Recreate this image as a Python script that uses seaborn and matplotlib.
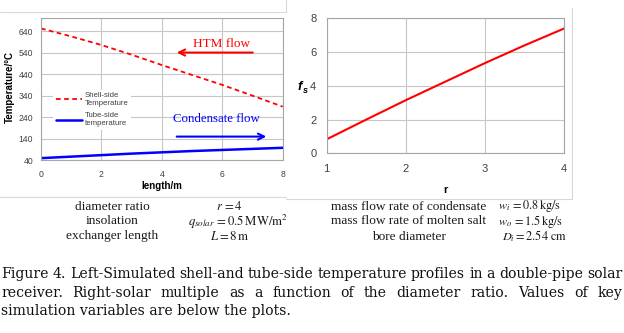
import matplotlib
matplotlib.use("Agg")
import matplotlib.pyplot as plt
import seaborn as sns
import pandas as pd
from matplotlib.lines import Line2D

# ---------------- data ----------------
length_m = [0, 1, 2, 3, 4, 5, 6, 7, 8]
shell_temp = [652, 615, 575, 530, 482, 436, 390, 340, 289]
tube_temp = [50, 57, 64, 71, 77, 83, 88, 93, 98]
temp_ticks = [40, 140, 240, 340, 440, 540, 640]
length_ticks = [0, 2, 4, 6, 8]

diam_ratio = [1, 1.5, 2, 2.5, 3, 3.5, 4]
solar_multiple = [0.83, 2.0, 3.15, 4.25, 5.35, 6.4, 7.4]
r_ticks = [1, 2, 3, 4]
fs_ticks = [0, 2, 4, 6, 8]

legend_labels = ["Shell-side\nTemperature", "Tube-side\ntemperature"]
flow_labels = ["HTM flow", "Condensate flow"]

param_left_names = ["diameter ratio", "insolation", "exchanger length"]
param_left_values = [r"$r\,=4$", r"$q_{solar}\,=0.5\,\mathrm{MW/m^2}$", r"$L=8\,\mathrm{m}$"]
param_right_names = ["mass flow rate of condensate", "mass flow rate of molten salt", "bore diameter"]
param_right_values = [r"$w_i\,=0.8\,\mathrm{kg/s}$", r"$w_o\,=1.5\,\mathrm{kg/s}$", r"$D_i=2.54\ \mathrm{cm}$"]

caption_lines = [
    "Figure 4. Left-Simulated shell-and tube-side temperature profiles in a double-pipe solar",
    "receiver. Right-solar multiple as a function of the diameter ratio. Values of key",
    "simulation variables are below the plots.",
]

# ---------------- style ----------------
sns.set_theme(style="white")
plt.rcParams["font.family"] = ["Liberation Sans", "DejaVu Sans"]
plt.rcParams["mathtext.fontset"] = "stix"

W, H = 624, 333
fig = plt.figure(figsize=(W / 100, H / 100), dpi=100)
fig.patch.set_facecolor("white")


def fx(x):
    return x / W


def fy(y):
    return 1 - y / H


GRID = "#C6C6C6"
SPINE = "#A6A6A6"
TXT = "#404040"

# ---------------- left chart ----------------
ax1 = fig.add_axes([fx(41), fy(160.3), 241.7 / W, 142.2 / H])
df1 = pd.DataFrame({"length": length_m, "shell": shell_temp, "tube": tube_temp})
sns.lineplot(data=df1, x="length", y="shell", ax=ax1, color="#FF0000", lw=1.3,
             linestyle=(0, (2.6, 1.9)), label=legend_labels[0])
sns.lineplot(data=df1, x="length", y="tube", ax=ax1, color="#0000FF", lw=1.8,
             label=legend_labels[1])
ax1.set_xlim(0, 8)
ax1.set_ylim(40, 700)
ax1.set_xticks(length_ticks)
ax1.set_yticks(temp_ticks)
ax1.grid(True, color=GRID, lw=0.8)
for s in ax1.spines.values():
    s.set_color(SPINE)
    s.set_linewidth(0.8)
ax1.tick_params(axis="both", direction="out", length=3, width=0.8, color=SPINE,
                labelsize=6.2, labelcolor=TXT, pad=2.5)
ax1.tick_params(axis="x", pad=4)
ax1.set_xlabel("length/m", fontsize=7, fontweight="bold", color="black")
ax1.xaxis.set_label_coords(0.5, -0.179)
ax1.xaxis.label.set_verticalalignment("center")
ax1.set_ylabel("Temperature/°C", fontsize=7, fontweight="bold", color="black")
ax1.yaxis.set_label_coords(-0.128, 0.515)
ax1.yaxis.label.set_verticalalignment("center")

leg = ax1.legend(loc="upper left", bbox_to_anchor=(0.035, 0.525), frameon=True,
                 facecolor="white", edgecolor="none", framealpha=1, fontsize=5.6,
                 handlelength=3.4, labelspacing=0.7, borderpad=0.3, handletextpad=0.3)
for t in leg.get_texts():
    t.set_color(TXT)

ax1.annotate("", xy=(4.4, 540), xytext=(7.1, 540),
             arrowprops=dict(arrowstyle="->", color="#FF0000", lw=1.5, mutation_scale=11))
ax1.annotate("", xy=(7.55, 150), xytext=(4.4, 150),
             arrowprops=dict(arrowstyle="->", color="#0000FF", lw=1.5, mutation_scale=11))
ax1.text(5.99, 582, flow_labels[0], color="#FF0000", fontsize=9.5,
         family="Liberation Serif", ha="center", va="center")
ax1.text(5.8, 232, flow_labels[1], color="#0000FF", fontsize=9.3,
         family="Liberation Serif", ha="center", va="center")

# ---------------- right chart ----------------
ax2 = fig.add_axes([fx(326.7), fy(153.3), 237.6 / W, 135 / H])
df2 = pd.DataFrame({"r": diam_ratio, "fs": solar_multiple})
sns.lineplot(data=df2, x="r", y="fs", ax=ax2, color="#FF0000", lw=1.5)
ax2.set_xlim(1, 4)
ax2.set_ylim(0, 8)
ax2.set_xticks(r_ticks)
ax2.set_yticks(fs_ticks)
ax2.grid(True, color=GRID, lw=0.8)
for s in ax2.spines.values():
    s.set_color(SPINE)
    s.set_linewidth(0.8)
ax2.tick_params(axis="both", length=0, labelsize=8, labelcolor=TXT, pad=7.5)
ax2.set_xlabel("r", fontsize=8, fontweight="bold", color="black")
ax2.xaxis.set_label_coords(0.5, -0.272)
ax2.xaxis.label.set_verticalalignment("center")
ax2.set_ylabel("")
fig.text(fx(297.5), fy(87.5), "f", fontsize=9.5, fontweight="bold", style="italic",
         ha="left", va="center", color="black")
fig.text(fx(302.5), fy(91), "s", fontsize=6.5, fontweight="bold", style="italic",
         ha="left", va="center", color="black")

# ---------------- frame lines ----------------
frame = "#D9D9D9"
for xs, ys in [([0, 286], [12.3, 12.3]), ([286, 286], [0, 12.3]),
               ([0, 286], [197.3, 197.3]), ([286, 572.3], [199.3, 199.3]),
               ([572.3, 572.3], [8, 199.3])]:
    fig.add_artist(Line2D([fx(v) for v in xs], [fy(v) for v in ys], color=frame,
                          lw=0.8, transform=fig.transFigure))

# ---------------- parameter table ----------------
row_y = [206.5, 221.5, 236.5]
left_value_x = [216, 188, 210]
right_value_x = [498, 498, 502]
for i in range(3):
    fig.text(fx(112), fy(row_y[i]), param_left_names[i], family="Liberation Serif",
             fontsize=9.6, ha="center", va="center", color="#1a1a1a")
    fig.text(fx(left_value_x[i]), fy(row_y[i]), param_left_values[i], fontsize=9.2,
             ha="left", va="center", color="#1a1a1a")
    fig.text(fx(409), fy(row_y[i]), param_right_names[i], family="Liberation Serif",
             fontsize=9.6, ha="center", va="center", color="#1a1a1a")
    fig.text(fx(right_value_x[i]), fy(row_y[i]), param_right_values[i], fontsize=8.8,
             ha="left", va="center", color="#1a1a1a")

# ---------------- caption (justified) ----------------
cap_y = [274, 293, 311]
cap_x0, cap_x1 = 1, 622
cap_size = 10.1
fig.canvas.draw()
renderer = fig.canvas.get_renderer()
for li, line in enumerate(caption_lines):
    if li < 2:
        words = line.split(" ")
        texts = [fig.text(0, fy(cap_y[li]), w, family="DejaVu Serif", fontsize=cap_size,
                          ha="left", va="center", color="#111111") for w in words]
        widths = [t.get_window_extent(renderer).width for t in texts]
        gap = (cap_x1 - cap_x0 - sum(widths)) / (len(words) - 1)
        x = cap_x0
        for t, w in zip(texts, widths):
            t.set_x(fx(x))
            x += w + gap
    else:
        fig.text(fx(cap_x0), fy(cap_y[li]), line, family="DejaVu Serif", fontsize=cap_size,
                 ha="left", va="center", color="#111111")

fig.savefig("out.png", dpi=100, facecolor="white")
